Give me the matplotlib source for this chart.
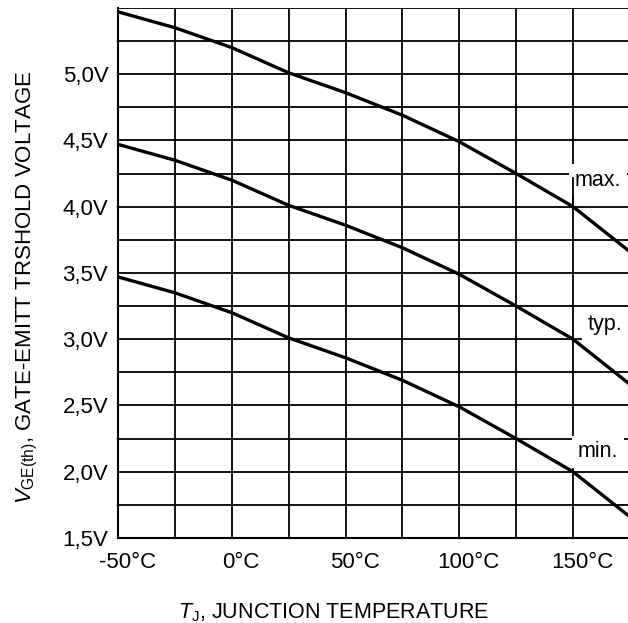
import matplotlib.pyplot as plt
import matplotlib.transforms as mtransforms
import numpy as np

plt.rcParams['font.family'] = ['Liberation Sans', 'DejaVu Sans']
plt.rcParams['mathtext.fontset'] = 'custom'
plt.rcParams['mathtext.rm'] = 'Liberation Sans'
plt.rcParams['mathtext.it'] = 'Liberation Sans:italic'

# Datos.
temp = [-50, -25, 0, 25, 50, 75, 100, 125, 150, 175]
v_max = [5.47, 5.35, 5.20, 5.01, 4.86, 4.69, 4.49, 4.25, 4.00, 3.66]
v_typ = [4.47, 4.35, 4.20, 4.01, 3.86, 3.69, 3.49, 3.25, 3.00, 2.66]
v_min = [3.47, 3.35, 3.20, 3.01, 2.86, 2.69, 2.49, 2.25, 2.00, 1.66]

x_ticks = [-50, 0, 50, 100, 150]
x_labels = ['-50°C', '0°C', '50°C', '100°C', '150°C']
y_ticks = [1.5, 2.0, 2.5, 3.0, 3.5, 4.0, 4.5, 5.0]
y_labels = ['1,5V', '2,0V', '2,5V', '3,0V', '3,5V', '4,0V', '4,5V', '5,0V']

fig = plt.figure(figsize=(6.28, 6.23), dpi=100)
ax = fig.add_axes([0.188, 0.1364, 0.815, 0.851])

# Rejilla.
for gx in np.arange(-25, 175, 25):
    ax.axvline(gx, color='k', linewidth=1.3, zorder=1)
for gy in np.arange(1.75, 5.51, 0.25):
    ax.axhline(gy, color='k', linewidth=1.3, zorder=1)

# Curvas.
for v in (v_max, v_typ, v_min):
    ax.plot(temp, v, color='k', linewidth=2.4, zorder=4, solid_capstyle='butt')

# Etiquetas de las curvas.
box = dict(facecolor='white', edgecolor='none', pad=4)
ax.text(150.8, 4.20, 'max.', fontsize=15.5, va='center', ha='left', bbox=box, zorder=2)
ax.text(156.3, 3.11, 'typ.', fontsize=15.5, va='center', ha='left', bbox=box, zorder=2)
ax.text(152.2, 2.15, 'min.', fontsize=15.5, va='center', ha='left', bbox=box, zorder=2)
ax.plot([150, 150], [4.0, 4.22], color='k', linewidth=1.3, zorder=3)

ax.set_xlim(-50, 175)
ax.set_ylim(1.5, 5.5)
ax.set_xticks(x_ticks)
ax.set_xticklabels(x_labels, fontsize=16)
ax.set_yticks(y_ticks)
ax.set_yticklabels(y_labels, fontsize=16)
ax.tick_params(axis='y', length=0, pad=7)
ax.tick_params(axis='x', length=0, pad=10)

# Corrimiento de las etiquetas del eje x.
off = mtransforms.ScaledTranslation(9 / 100, 0, fig.dpi_scale_trans)
for lab in ax.get_xticklabels():
    lab.set_transform(lab.get_transform() + off)

for s in ('top', 'right'):
    ax.spines[s].set_visible(False)
for s in ('left', 'bottom'):
    ax.spines[s].set_linewidth(1.5)

fig.text(0.532, 0.008, r'$T_{\mathrm{J}}$, JUNCTION TEMPERATURE', fontsize=15.5, ha='center', va='baseline')
fig.text(0.044, 0.538, r'$V_{\mathrm{GE(th)}}$, GATE-EMITT TRSHOLD VOLTAGE', fontsize=16,
         rotation=90, ha='center', va='center')

fig.savefig('out.png', dpi=100)
